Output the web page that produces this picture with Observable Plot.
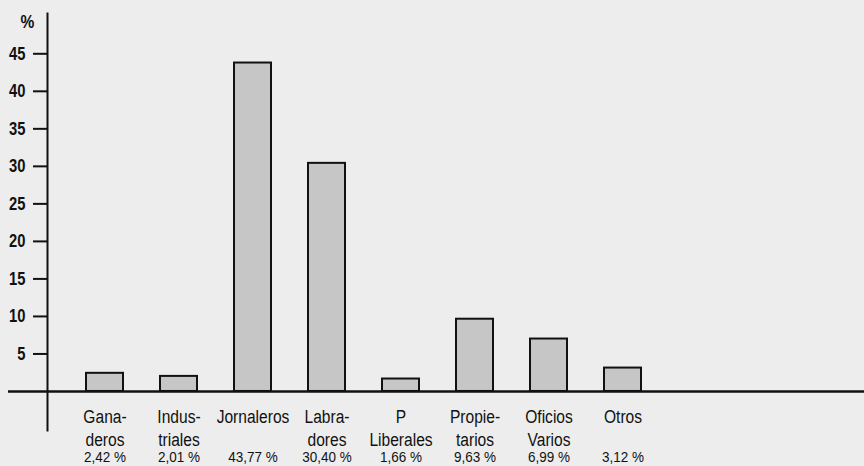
<!DOCTYPE html>
<html>
<head>
<meta charset="utf-8">
<script src="https://cdn.jsdelivr.net/npm/d3@7"></script>
<script src="https://cdn.jsdelivr.net/npm/@observablehq/plot@0.6"></script>
<style>
  html, body { margin: 0; padding: 0; background: #ededed; }
  #chart { width: 864px; height: 466px; }
  svg { font-family: "Liberation Sans", Arial, sans-serif; }
</style>
</head>
<body>
<div id="chart"></div>
<script>
const categories = ["Ganaderos", "Industriales", "Jornaleros", "Labradores", "P Liberales", "Propietarios", "Oficios Varios", "Otros"];
const line1 = ["Gana-", "Indus-", "Jornaleros", "Labra-", "P", "Propie-", "Oficios", "Otros"];
const line2 = ["deros", "triales", "", "dores", "Liberales", "tarios", "Varios", ""];
const values = [2.42, 2.01, 43.77, 30.40, 1.66, 9.63, 6.99, 3.12];
const yTicks = [5, 10, 15, 20, 25, 30, 35, 40, 45];
const yTitle = ["%"];

const data = categories.map((c, i) => ({
  cat: c,
  l1: line1[i],
  l2: line2[i],
  v: values[i],
  pct: values[i].toFixed(2).replace(".", ",") + " %"
}));

const chart = Plot.plot({
  width: 864,
  height: 466,
  marginTop: 13,
  marginBottom: 36,
  marginLeft: 47,
  marginRight: 0,
  style: { background: "transparent", color: "#111" },
  x: { type: "band", domain: categories, range: [64.8, 662.4], paddingInner: 0.5, paddingOuter: 0.25, axis: null },
  y: { domain: [-5.2, 50.37], axis: null },
  marks: [
    Plot.barY(data, { x: "cat", y: "v", fill: "#c6c6c6", stroke: "#111", strokeWidth: 2 }),
    Plot.ruleY([0], { stroke: "#111", strokeWidth: 2.5, insetLeft: -39 }),
    Plot.frame({ anchor: "left", stroke: "#111", strokeWidth: 2 }),
    Plot.axisY({ ticks: yTicks, tickSize: 14, tickPadding: 8, fontSize: 18, fontWeight: "bold", strokeWidth: 2, label: null }),
    Plot.text(yTitle, { text: d => d, frameAnchor: "top-left", dx: -27, dy: 1, fontSize: 19, fontWeight: "bold", fill: "#111" }),
    Plot.text(data, { x: "cat", y: 0, text: "l1", dy: 25, fontSize: 19, fill: "#111" }),
    Plot.text(data, { x: "cat", y: 0, text: "l2", dy: 48, fontSize: 19, fill: "#111" }),
    Plot.text(data, { x: "cat", y: 0, text: "pct", dy: 66, fontSize: 15, fill: "#111" })
  ]
});
document.getElementById("chart").appendChild(chart);

// condensed look (like Helvetica Narrow): squeeze each text horizontally around its anchor
chart.querySelectorAll("text").forEach(t => {
  const s = /\d.*%/.test(t.textContent) ? 0.9 : 0.82;
  const x = +t.getAttribute("x") || 0, y = +t.getAttribute("y") || 0;
  const tr = t.getAttribute("transform") || "";
  t.setAttribute("transform", `${tr} translate(${x},${y}) scale(${s},1) translate(${-x},${-y})`);
});
</script>
</body>
</html>
